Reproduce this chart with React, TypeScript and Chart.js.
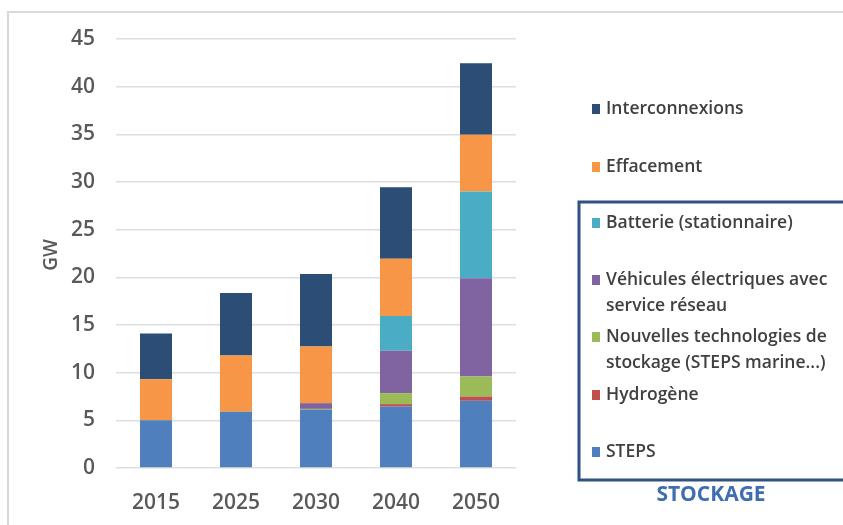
import { useEffect, useRef } from "react";
import { Chart, registerables } from "chart.js";

Chart.register(...registerables);

// Installed capacity (GW) by year and flexibility source
const years = ["2015", "2025", "2030", "2040", "2050"];
const steps = [5.0, 5.9, 6.1, 6.45, 7.05];
const hydrogene = [0, 0, 0, 0.25, 0.45];
const nouvellesTech = [0, 0, 0.1, 1.15, 2.1];
const vehicules = [0, 0, 0.6, 4.45, 10.3];
const batterie = [0, 0, 0, 3.65, 9.1];
const effacement = [4.3, 5.9, 5.95, 6.0, 5.95];
const interconnexions = [4.8, 6.55, 7.6, 7.5, 7.5];

const yMax = 45;
const yStep = 5;
const yTitle = "GW";
const groupTitle = "STOCKAGE";

// Legend entries, top to bottom (multi-line where the label wraps)
const legendLines: string[][] = [
  ["Interconnexions"],
  ["Effacement"],
  ["Batterie (stationnaire)"],
  ["Véhicules électriques avec", "service réseau"],
  ["Nouvelles technologies de", "stockage (STEPS marine...)"],
  ["Hydrogène"],
  ["STEPS"],
];

const FONT = "'Open Sans', 'DejaVu Sans', sans-serif";

const series = [
  { label: "STEPS", data: steps, color: "#4f7fbc" },
  { label: "Hydrogène", data: hydrogene, color: "#c0504d" },
  { label: "Nouvelles technologies de stockage (STEPS marine...)", data: nouvellesTech, color: "#9bbb59" },
  { label: "Véhicules électriques avec service réseau", data: vehicules, color: "#8064a2" },
  { label: "Batterie (stationnaire)", data: batterie, color: "#4bacc6" },
  { label: "Effacement", data: effacement, color: "#f79646" },
  { label: "Interconnexions", data: interconnexions, color: "#2c4d75" },
];

const decorPlugin = {
  id: "decor",
  beforeDraw(chart: any) {
    const { ctx, width, height } = chart;
    ctx.save();
    ctx.fillStyle = "#ffffff";
    ctx.fillRect(0, 0, width, height);
    // outer frame (top and left edges)
    ctx.strokeStyle = "#d9d9d9";
    ctx.lineWidth = 2;
    ctx.beginPath();
    ctx.moveTo(8, height);
    ctx.lineTo(8, 12);
    ctx.lineTo(width, 12);
    ctx.stroke();
    ctx.restore();
  },
  afterDraw(chart: any) {
    const { ctx } = chart;
    ctx.save();

    // y axis title
    ctx.fillStyle = "#595959";
    ctx.font = `600 19px ${FONT}`;
    ctx.textAlign = "center";
    ctx.textBaseline = "middle";
    ctx.translate(52, 255);
    ctx.rotate(-Math.PI / 2);
    ctx.fillText(yTitle, 0, 0);
    ctx.setTransform(1, 0, 0, 1, 0, 0);

    // legend, reversed dataset order (top of stack first)
    const ds = chart.data.datasets.slice().reverse();
    const rows = [109, 167, 223, 280, 337, 395, 452];
    const lineGap = 26.5;
    ctx.font = `600 17.5px ${FONT}`;
    ctx.textAlign = "left";
    ctx.textBaseline = "middle";
    ds.forEach((d: any, i: number) => {
      const y = rows[i];
      ctx.fillStyle = d.backgroundColor;
      ctx.fillRect(592, y - 5, 8, 10);
      ctx.fillStyle = "#404040";
      legendLines[i].forEach((line, k) => {
        ctx.fillText(line, 606, y + k * lineGap);
      });
    });

    // storage group box
    ctx.strokeStyle = "#2f5282";
    ctx.lineWidth = 3;
    ctx.strokeRect(579, 202, 300, 278);

    ctx.fillStyle = "#3e6db3";
    ctx.font = `700 21px ${FONT}`;
    ctx.textAlign = "center";
    ctx.textBaseline = "middle";
    ctx.fillText(groupTitle, 711, 495);
    ctx.restore();
  },
};

export default function App() {
  const canvasRef = useRef<HTMLCanvasElement | null>(null);

  useEffect(() => {
    const canvas = canvasRef.current;
    if (!canvas) return;
    const chart = new Chart(canvas, {
      type: "bar",
      data: {
        labels: years,
        datasets: series.map((s) => ({
          label: s.label,
          data: s.data,
          backgroundColor: s.color,
          borderWidth: 0,
          barPercentage: 0.4,
          categoryPercentage: 1,
        })),
      },
      options: {
        responsive: false,
        animation: false,
        devicePixelRatio: 1,
        layout: { padding: { left: 40, top: 39, right: 327, bottom: 0 } },
        plugins: {
          legend: { display: false },
          tooltip: { enabled: false },
        },
        scales: {
          x: {
            stacked: true,
            grid: { display: false, drawTicks: false },
            border: { display: false },
            ticks: {
              color: "#595959",
              font: { family: FONT, size: 21, weight: "600" },
              padding: 22,
            },
            afterFit: (scale: any) => {
              scale.height = 57;
            },
          },
          y: {
            stacked: true,
            min: 0,
            max: yMax,
            grid: { color: "#dedede", lineWidth: 1.5, drawTicks: false },
            border: { display: false },
            ticks: {
              stepSize: yStep,
              color: "#595959",
              font: { family: FONT, size: 21, weight: "600" },
              padding: 21,
            },
            afterFit: (scale: any) => {
              scale.width = 76;
            },
          },
        },
      },
      plugins: [decorPlugin],
    });
    return () => chart.destroy();
  }, []);

  return (
    <div style={{ position: "absolute", left: 0, top: 0, width: 843, height: 525, background: "#fff" }}>
      <canvas ref={canvasRef} width={843} height={525} style={{ width: 843, height: 525, display: "block" }} />
    </div>
  );
}
